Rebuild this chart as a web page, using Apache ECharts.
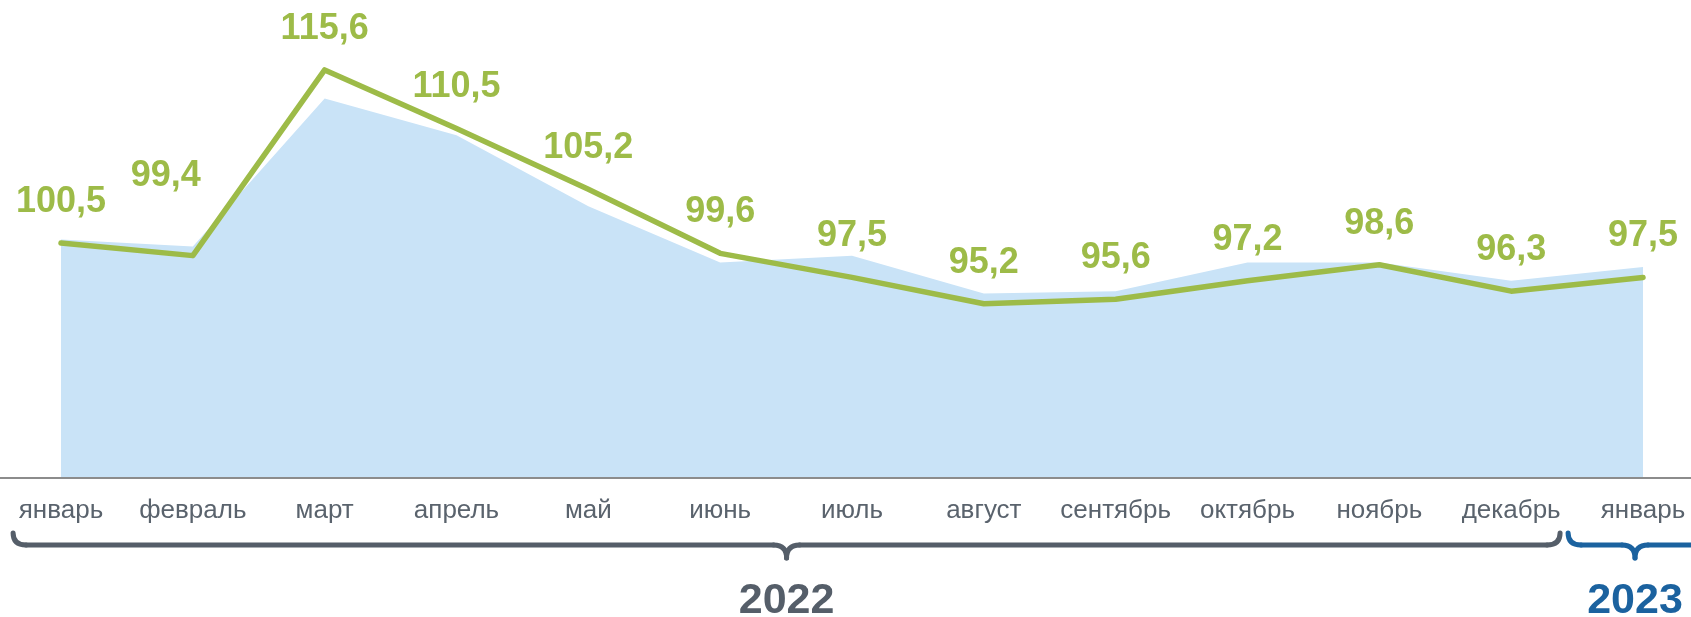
<!DOCTYPE html>
<html>
<head>
<meta charset="utf-8">
<script src="https://cdn.jsdelivr.net/npm/echarts@6/dist/echarts.min.js"></script>
<style>
html,body{margin:0;padding:0;background:#fff;}
#chart{width:1691px;height:617px;}
</style>
</head>
<body>
<div id="chart"></div>
<script>
const categories = ['январь','февраль','март','апрель','май','июнь','июль','август','сентябрь','октябрь','ноябрь','декабрь','январь'];
const lineValues = [100.5, 99.4, 115.6, 110.5, 105.2, 99.6, 97.5, 95.2, 95.6, 97.2, 98.6, 96.3, 97.5];
const areaValues = [100.8, 100.2, 113.1, 109.9, 103.7, 98.8, 99.4, 96.1, 96.3, 98.8, 98.8, 97.2, 98.4];
const years = ['2022', '2023'];
const yearSpans = [[0, 11], [12, 12]];

const GREEN = '#9DBB48';
const FONT = "'Liberation Sans', Arial, sans-serif";

const chart = echarts.init(document.getElementById('chart'));

const lineData = lineValues.map((v, i) => {
  if (i === 1) return { value: v, label: { offset: [-27, -39] } };
  return v;
});

chart.setOption({
  animation: false,
  backgroundColor: '#ffffff',
  grid: { left: 61, right: 48, top: 19.5, bottom: 139, containLabel: false },
  xAxis: {
    type: 'category',
    data: categories,
    boundaryGap: false,
    axisLine: { show: false },
    axisTick: { show: false },
    axisLabel: { color: '#5A636D', fontSize: 26, fontFamily: FONT, margin: 20, interval: 0 },
    splitLine: { show: false }
  },
  yAxis: {
    type: 'value',
    min: 80,
    max: 120,
    show: false,
    splitLine: { show: false }
  },
  series: [
    {
      type: 'line',
      data: areaValues,
      symbol: 'none',
      lineStyle: { width: 0 },
      areaStyle: { color: '#C9E3F7', opacity: 1 },
      z: 1,
      silent: true
    },
    {
      type: 'line',
      data: lineData,
      symbol: 'circle',
      showSymbol: true,
      symbolSize: 2,
      itemStyle: { color: GREEN },
      lineStyle: { color: GREEN, width: 5.5, cap: 'round', join: 'round' },
      label: {
        show: true,
        position: 'top',
        distance: 22,
        color: GREEN,
        fontSize: 36,
        fontWeight: 'bold',
        fontFamily: FONT,
        formatter: p => String(p.value).replace('.', ',')
      },
      z: 3
    }
  ]
});

function px(i) { return chart.convertToPixel({ xAxisIndex: 0 }, i); }
function py(v) { return chart.convertToPixel({ yAxisIndex: 0 }, v); }
const band = px(1) - px(0);
const braceColors = ['#555E69', '#1B629F'];
const graphics = [];
const yAxisLine = py(80);
graphics.push({
  type: 'line',
  shape: { x1: 0, y1: yAxisLine, x2: 1691, y2: yAxisLine },
  style: { stroke: '#8C8C8C', lineWidth: 2 },
  silent: true,
  z: 5
});
const yLine = 545, yTip = 558, yHook = 533, r = 13;
function seg(type, shape, color) {
  graphics.push({
    type: type,
    shape: shape,
    style: { fill: null, stroke: color, lineWidth: 5, lineCap: 'round', lineJoin: 'round' },
    silent: true,
    z: 10
  });
}
yearSpans.forEach((span, k) => {
  let x0, x1, xm;
  if (k === 0) {
    x0 = px(span[0]) - band / 2 + 18; x1 = px(span[1]) + band / 2 - 17; xm = (x0 + x1) / 2;
  } else {
    x0 = px(span[0]) - band / 2 - 9; x1 = px(span[1]) + band / 2 + 1; xm = px(span[0]) - 8;
  }
  const c = braceColors[k];
  seg('bezierCurve', { x1: x0, y1: yHook, x2: x0 + r, y2: yLine, cpx1: x0, cpy1: yLine }, c);
  seg('line', { x1: x0 + r, y1: yLine, x2: xm - r, y2: yLine }, c);
  seg('bezierCurve', { x1: xm - r, y1: yLine, x2: xm, y2: yTip, cpx1: xm, cpy1: yLine }, c);
  seg('bezierCurve', { x1: xm, y1: yTip, x2: xm + r, y2: yLine, cpx1: xm, cpy1: yLine }, c);
  seg('line', { x1: xm + r, y1: yLine, x2: x1 - r, y2: yLine }, c);
  seg('bezierCurve', { x1: x1 - r, y1: yLine, x2: x1, y2: yHook, cpx1: x1, cpy1: yLine }, c);
  graphics.push({
    type: 'text',
    x: xm,
    y: 601,
    style: {
      text: years[k],
      fill: c,
      font: `bold 43px ${FONT}`,
      align: 'center',
      verticalAlign: 'middle'
    },
    silent: true,
    z: 10
  });
});
chart.setOption({ graphic: { elements: graphics } });
</script>
</body>
</html>
